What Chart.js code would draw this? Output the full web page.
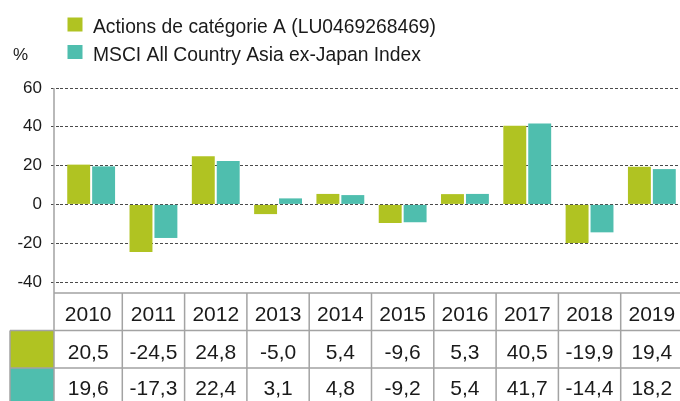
<!DOCTYPE html>
<html>
<head>
<meta charset="utf-8">
<script src="https://cdn.jsdelivr.net/npm/chart.js@4"></script>
<style>
  html, body { margin: 0; padding: 0; background: #fff; overflow: hidden; }
  canvas { display: block; }
</style>
</head>
<body>
<canvas id="perf-chart" width="683" height="401"></canvas>
<script>
const years = ['2010', '2011', '2012', '2013', '2014', '2015', '2016', '2017', '2018', '2019'];
const classA = [20.5, -24.5, 24.8, -5.0, 5.4, -9.6, 5.3, 40.5, -19.9, 19.4];
const msciAsia = [19.6, -17.3, 22.4, 3.1, 4.8, -9.2, 5.4, 41.7, -14.4, 18.2];
const seriesNames = ['Actions de catégorie A (LU0469268469)', 'MSCI All Country Asia ex-Japan Index'];
const yTicks = [-40, -20, 0, 20, 40, 60];

const FONT = '"Liberation Sans", Arial, sans-serif';
const TEXT = '#1a1a1a';
const GREEN = '#b0c322';
const TEAL = '#4fbeae';
const GRID = '#4a4a4a';
const RULE = '#a3a3a3';

function fmt(v) {
  return v.toFixed(1).replace('.', ',');
}

// legend, % label, axis line and the data table under the chart
const extras = {
  id: 'extras',
  afterDraw(chart) {
    const ctx = chart.ctx;
    const area = chart.chartArea;
    const x = chart.scales.x;
    const colors = [GREEN, TEAL];
    const rows = [classA, msciAsia];
    ctx.save();

    ctx.font = '19.3px ' + FONT;
    ctx.textBaseline = 'alphabetic';
    ctx.textAlign = 'left';
    seriesNames.forEach((name, i) => {
      ctx.fillStyle = colors[i];
      ctx.fillRect(67.5, 17.5 + i * 27.5, 15, 14);
      ctx.fillStyle = TEXT;
      ctx.fillText(name, 93, 33 + i * 27.5);
    });
    ctx.font = '17px ' + FONT;
    ctx.fillText('%', 13, 60);

    const axisX = area.left - 6;
    const step = x.width / years.length;
    const top = area.bottom + 11;
    const h = 37.5;
    const right = chart.width;
    const swatchLeft = 10;

    // swatch cells
    rows.forEach((r, i) => {
      ctx.fillStyle = colors[i];
      ctx.fillRect(swatchLeft, top + h * (i + 1), axisX - swatchLeft, h);
    });

    // grid of the table
    ctx.strokeStyle = RULE;
    ctx.lineWidth = 1.5;
    ctx.beginPath();
    ctx.moveTo(axisX, area.top);
    ctx.lineTo(axisX, chart.height);
    ctx.moveTo(axisX, top);
    ctx.lineTo(right, top);
    for (let r = 1; r <= 3; r++) {
      ctx.moveTo(swatchLeft, top + h * r);
      ctx.lineTo(right, top + h * r);
    }
    ctx.moveTo(swatchLeft, top + h);
    ctx.lineTo(swatchLeft, chart.height);
    for (let i = 1; i < years.length; i++) {
      const bx = x.getPixelForValue(i) - step / 2;
      ctx.moveTo(bx, top);
      ctx.lineTo(bx, chart.height);
    }
    ctx.stroke();

    // table text
    ctx.fillStyle = TEXT;
    ctx.font = '21px ' + FONT;
    ctx.textAlign = 'center';
    years.forEach((yr, i) => {
      let cx = x.getPixelForValue(i);
      if (i === 0) cx = (axisX + cx + step / 2) / 2;
      ctx.fillText(yr, cx, top + 28);
      ctx.fillText(fmt(classA[i]), cx, top + h + 28);
      ctx.fillText(fmt(msciAsia[i]), cx, top + 2 * h + 27);
    });

    ctx.restore();
  }
};

const ctx = document.getElementById('perf-chart').getContext('2d');
new Chart(ctx, {
  type: 'bar',
  data: {
    labels: years,
    datasets: [
      { label: seriesNames[0], data: classA, backgroundColor: GREEN, borderWidth: 0 },
      { label: seriesNames[1], data: msciAsia, backgroundColor: TEAL, borderWidth: 0 }
    ]
  },
  options: {
    responsive: false,
    animation: false,
    events: [],
    layout: { padding: { top: 88, bottom: 119, left: 0, right: 0 } },
    datasets: {
      bar: { barPercentage: 0.92, categoryPercentage: 0.8 }
    },
    plugins: {
      legend: { display: false },
      tooltip: { enabled: false }
    },
    scales: {
      x: {
        display: false,
        offset: true
      },
      y: {
        min: yTicks[0],
        max: yTicks[yTicks.length - 1],
        afterFit(scale) { scale.width = 60; },
        afterBuildTicks(scale) { scale.ticks = yTicks.map(v => ({ value: v })); },
        border: { display: false, dash: [3, 2] },
        grid: {
          color: GRID,
          lineWidth: 1,
          tickBorderDash: [3, 2],
          tickColor: GRID,
          tickLength: 9
        },
        ticks: {
          padding: 9,
          color: TEXT,
          font: { family: FONT, size: 17 },
          callback: v => String(v)
        }
      }
    }
  },
  plugins: [extras]
});
</script>
</body>
</html>
